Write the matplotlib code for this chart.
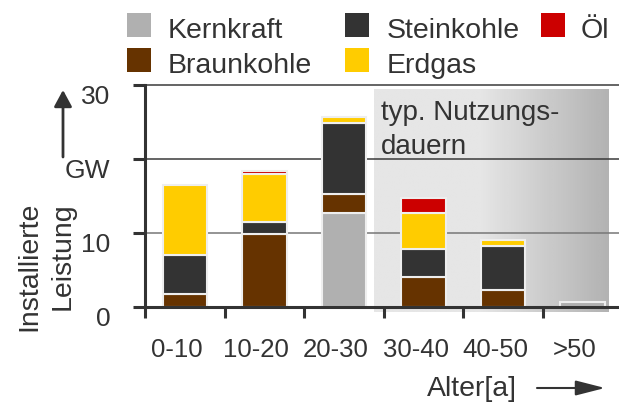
import matplotlib

matplotlib.use("Agg")
import matplotlib.pyplot as plt
import numpy as np
from matplotlib.patches import Rectangle

plt.rcParams["font.family"] = ["Liberation Sans", "DejaVu Sans"]

INK = "#333333"
W, H = 619, 403

# installed capacity by plant age, GW
age_classes = ["0-10", "10-20", "20-30", "30-40", "40-50", ">50"]
kernkraft = [0.0, 0.0, 12.7, 0.0, 0.0, 0.6]
braunkohle = [1.7, 9.8, 2.6, 4.0, 2.2, 0.0]
steinkohle = [5.3, 1.7, 9.5, 3.8, 6.0, 0.0]
erdgas = [9.5, 6.4, 0.9, 4.9, 0.8, 0.0]
oel = [0.0, 0.4, 0.0, 2.0, 0.0, 0.0]

series = [
    ("Kernkraft", kernkraft, "#b0b0b0"),
    ("Braunkohle", braunkohle, "#663300"),
    ("Steinkohle", steinkohle, "#333333"),
    ("Erdgas", erdgas, "#ffcc00"),
    ("Öl", oel, "#cc0000"),
]

y_ticks = [0, 10, 20, 30]
y_tick_labels = ["0", "10", "GW", "30"]

# typical service life band (age classes, GW)
band_x = (2.88, 5.83)
band_y = (-0.68, 29.42)


def fx(x):
    return x / W


def fy(y):
    return 1 - y / H


fig = plt.figure(figsize=(W / 100, H / 100), dpi=100)
ax = fig.add_axes([fx(145), fy(306.7), fx(474), 221.7 / H])

x = np.arange(len(age_classes)) + 0.5
ax.set_xlim(0, 5.955)
ax.set_ylim(0, 30)

# grey gradient band behind the older plants
ramp = np.concatenate([np.full(45, 0.90), np.linspace(0.90, 0.70, 55)])
ax.imshow(
    ramp[np.newaxis, :],
    cmap="gray",
    vmin=0,
    vmax=1,
    aspect="auto",
    extent=(band_x[0], band_x[1], band_y[0], band_y[1]),
    zorder=0.5,
    clip_on=False,
    interpolation="bilinear",
)
ax.text(
    band_x[0] + 0.08,
    28.0,
    "typ. Nutzungs-\ndauern",
    fontsize=20,
    color=INK,
    ha="left",
    va="top",
    linespacing=1.4,
    zorder=3,
)

for level, col in zip(y_ticks[1:], ["#777777", "#3a3a3a", "#3a3a3a"]):
    ax.axhline(level, color=col, linewidth=1.1, zorder=1, clip_on=False)

bottom = np.zeros(len(age_classes))
for name, vals, color in series:
    vals = np.asarray(vals)
    keep = vals > 0
    ax.bar(
        x[keep],
        vals[keep],
        bottom=bottom[keep],
        width=0.56,
        color=color,
        edgecolor="#eeeeee",
        linewidth=1.5,
        zorder=2,
    )
    bottom += vals

for side in ("top", "right"):
    ax.spines[side].set_visible(False)
for side in ("left", "bottom"):
    ax.spines[side].set_color(INK)
    ax.spines[side].set_linewidth(2.2)

ax.set_yticks(y_ticks)
ax.set_yticklabels(y_tick_labels)
for lab in ax.get_yticklabels():
    lab.set_verticalalignment("top")
ax.tick_params(axis="y", length=8.6, width=2.2, color=INK, pad=16.5,
               labelsize=19, labelcolor=INK)
ax.set_xticks(np.arange(len(age_classes)))
ax.set_xticklabels([])
ax.tick_params(axis="x", length=8, width=2.2, color=INK)

for xi, lab in zip(x, age_classes):
    ax.annotate(
        lab,
        xy=(xi, 0),
        xytext=(-8 * 0.72, -31 * 0.72),
        textcoords="offset points",
        ha="center",
        va="top",
        fontsize=18.5,
        color=INK,
        annotation_clip=False,
    )

# axis captions with arrows
fig.text(fx(46), fy(202), "Installierte\nLeistung", rotation=90, ha="center",
         va="top", multialignment="right", fontsize=20.5, color=INK,
         linespacing=1.4)
ax.annotate(
    "",
    xy=(63, H - 90),
    xytext=(63, H - 157),
    xycoords="figure pixels",
    textcoords="figure pixels",
    arrowprops=dict(arrowstyle="-|>,head_length=0.5,head_width=0.27",
                    mutation_scale=20, lw=2, color=INK, shrinkA=0, shrinkB=0),
)
fig.text(fx(427), fy(389), "Alter[a]", ha="left", va="center",
         fontsize=20.5, color=INK)
ax.annotate(
    "",
    xy=(605, H - 388),
    xytext=(537, H - 388),
    xycoords="figure pixels",
    textcoords="figure pixels",
    arrowprops=dict(arrowstyle="-|>,head_length=0.9,head_width=0.23",
                    mutation_scale=20, lw=1.5, color=INK, shrinkA=0, shrinkB=0),
)

# legend laid out in three columns, filled column by column
slot_x = [(127, 168), (127, 168), (345, 387), (345, 387), (541, 581)]
slot_y = [13, 48, 13, 48, 13]
for (name, _, color), (sx, tx), sy in zip(series, slot_x, slot_y):
    fig.add_artist(Rectangle((fx(sx), fy(sy + 24)), 24 / W, 24 / H,
                             facecolor=color, edgecolor="none",
                             transform=fig.transFigure))
    fig.text(fx(tx), fy(sy + 25), name, ha="left", va="baseline",
             fontsize=20.5, color=INK)

fig.savefig("out.png", dpi=100, facecolor="white")
